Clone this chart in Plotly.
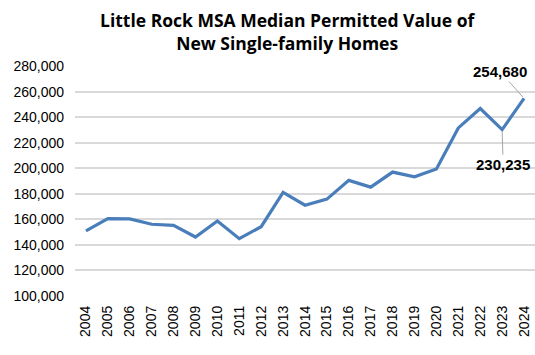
import plotly.graph_objects as go

years = list(range(2004, 2025))
values = [151000, 160500, 160300, 156100, 155300, 146100, 158700, 144800, 154200,
          181000, 171000, 175800, 190500, 185200, 197000, 193300, 199400, 231600,
          246800, 230235, 254680]
y_ticks = list(range(100000, 280001, 20000))
y_tick_text = [f"{v:,}" for v in y_ticks]
labels = {2024: "254,680", 2023: "230,235"}
label_offsets = {2024: (-24, -27), 2023: (1, 35)}
title_text = "Little Rock MSA Median Permitted Value of<br>New Single-family Homes"

fig = go.Figure()
fig.add_trace(go.Scatter(
    x=years, y=values, mode="lines",
    line=dict(color="#4a7ebb", width=3.2),
    hoverinfo="skip",
))

for yr, txt in labels.items():
    v = values[years.index(yr)]
    ax, ay = label_offsets[yr]
    fig.add_annotation(
        x=yr, y=v, text=f"<b>{txt}</b>", showarrow=True, arrowhead=0,
        arrowwidth=1, arrowcolor="#a6a6a6", ax=ax, ay=ay, standoff=2,
        font=dict(family="Liberation Sans, Arial", size=15, color="#000000"),
    )

fig.add_annotation(
    text=f"<b>{title_text}</b>", xref="paper", yref="paper",
    x=0.462, y=1.262, xanchor="center", yanchor="top", showarrow=False,
    font=dict(family="Open Sans", size=17.5, color="#000000"),
)

fig.update_layout(
    width=535, height=355,
    margin=dict(l=75, r=0, t=66, b=59),
    paper_bgcolor="white", plot_bgcolor="white",
    showlegend=False,
    font=dict(family="Liberation Sans, Arial", size=14, color="#000000"),
)
fig.update_xaxes(
    range=[2003.5, 2024.5], tickvals=years, ticktext=[str(y) for y in years],
    tickangle=-90, showgrid=False, showline=False, zeroline=False,
    ticks="", ticklabelstandoff=6, tickfont=dict(size=14, color="#000000"),
)
fig.update_yaxes(
    range=[99900, 280100], tickvals=y_ticks, ticktext=y_tick_text,
    showgrid=True, gridcolor="#d9d9d9", gridwidth=1.5, zeroline=False,
    showline=False, ticks="", ticklabelstandoff=10,
    tickfont=dict(size=14, color="#000000"),
)

fig.write_html(
    "out.html",
    config={"displayModeBar": False},
    post_script="document.body.style.margin='0';document.body.style.overflow='hidden';",
)
